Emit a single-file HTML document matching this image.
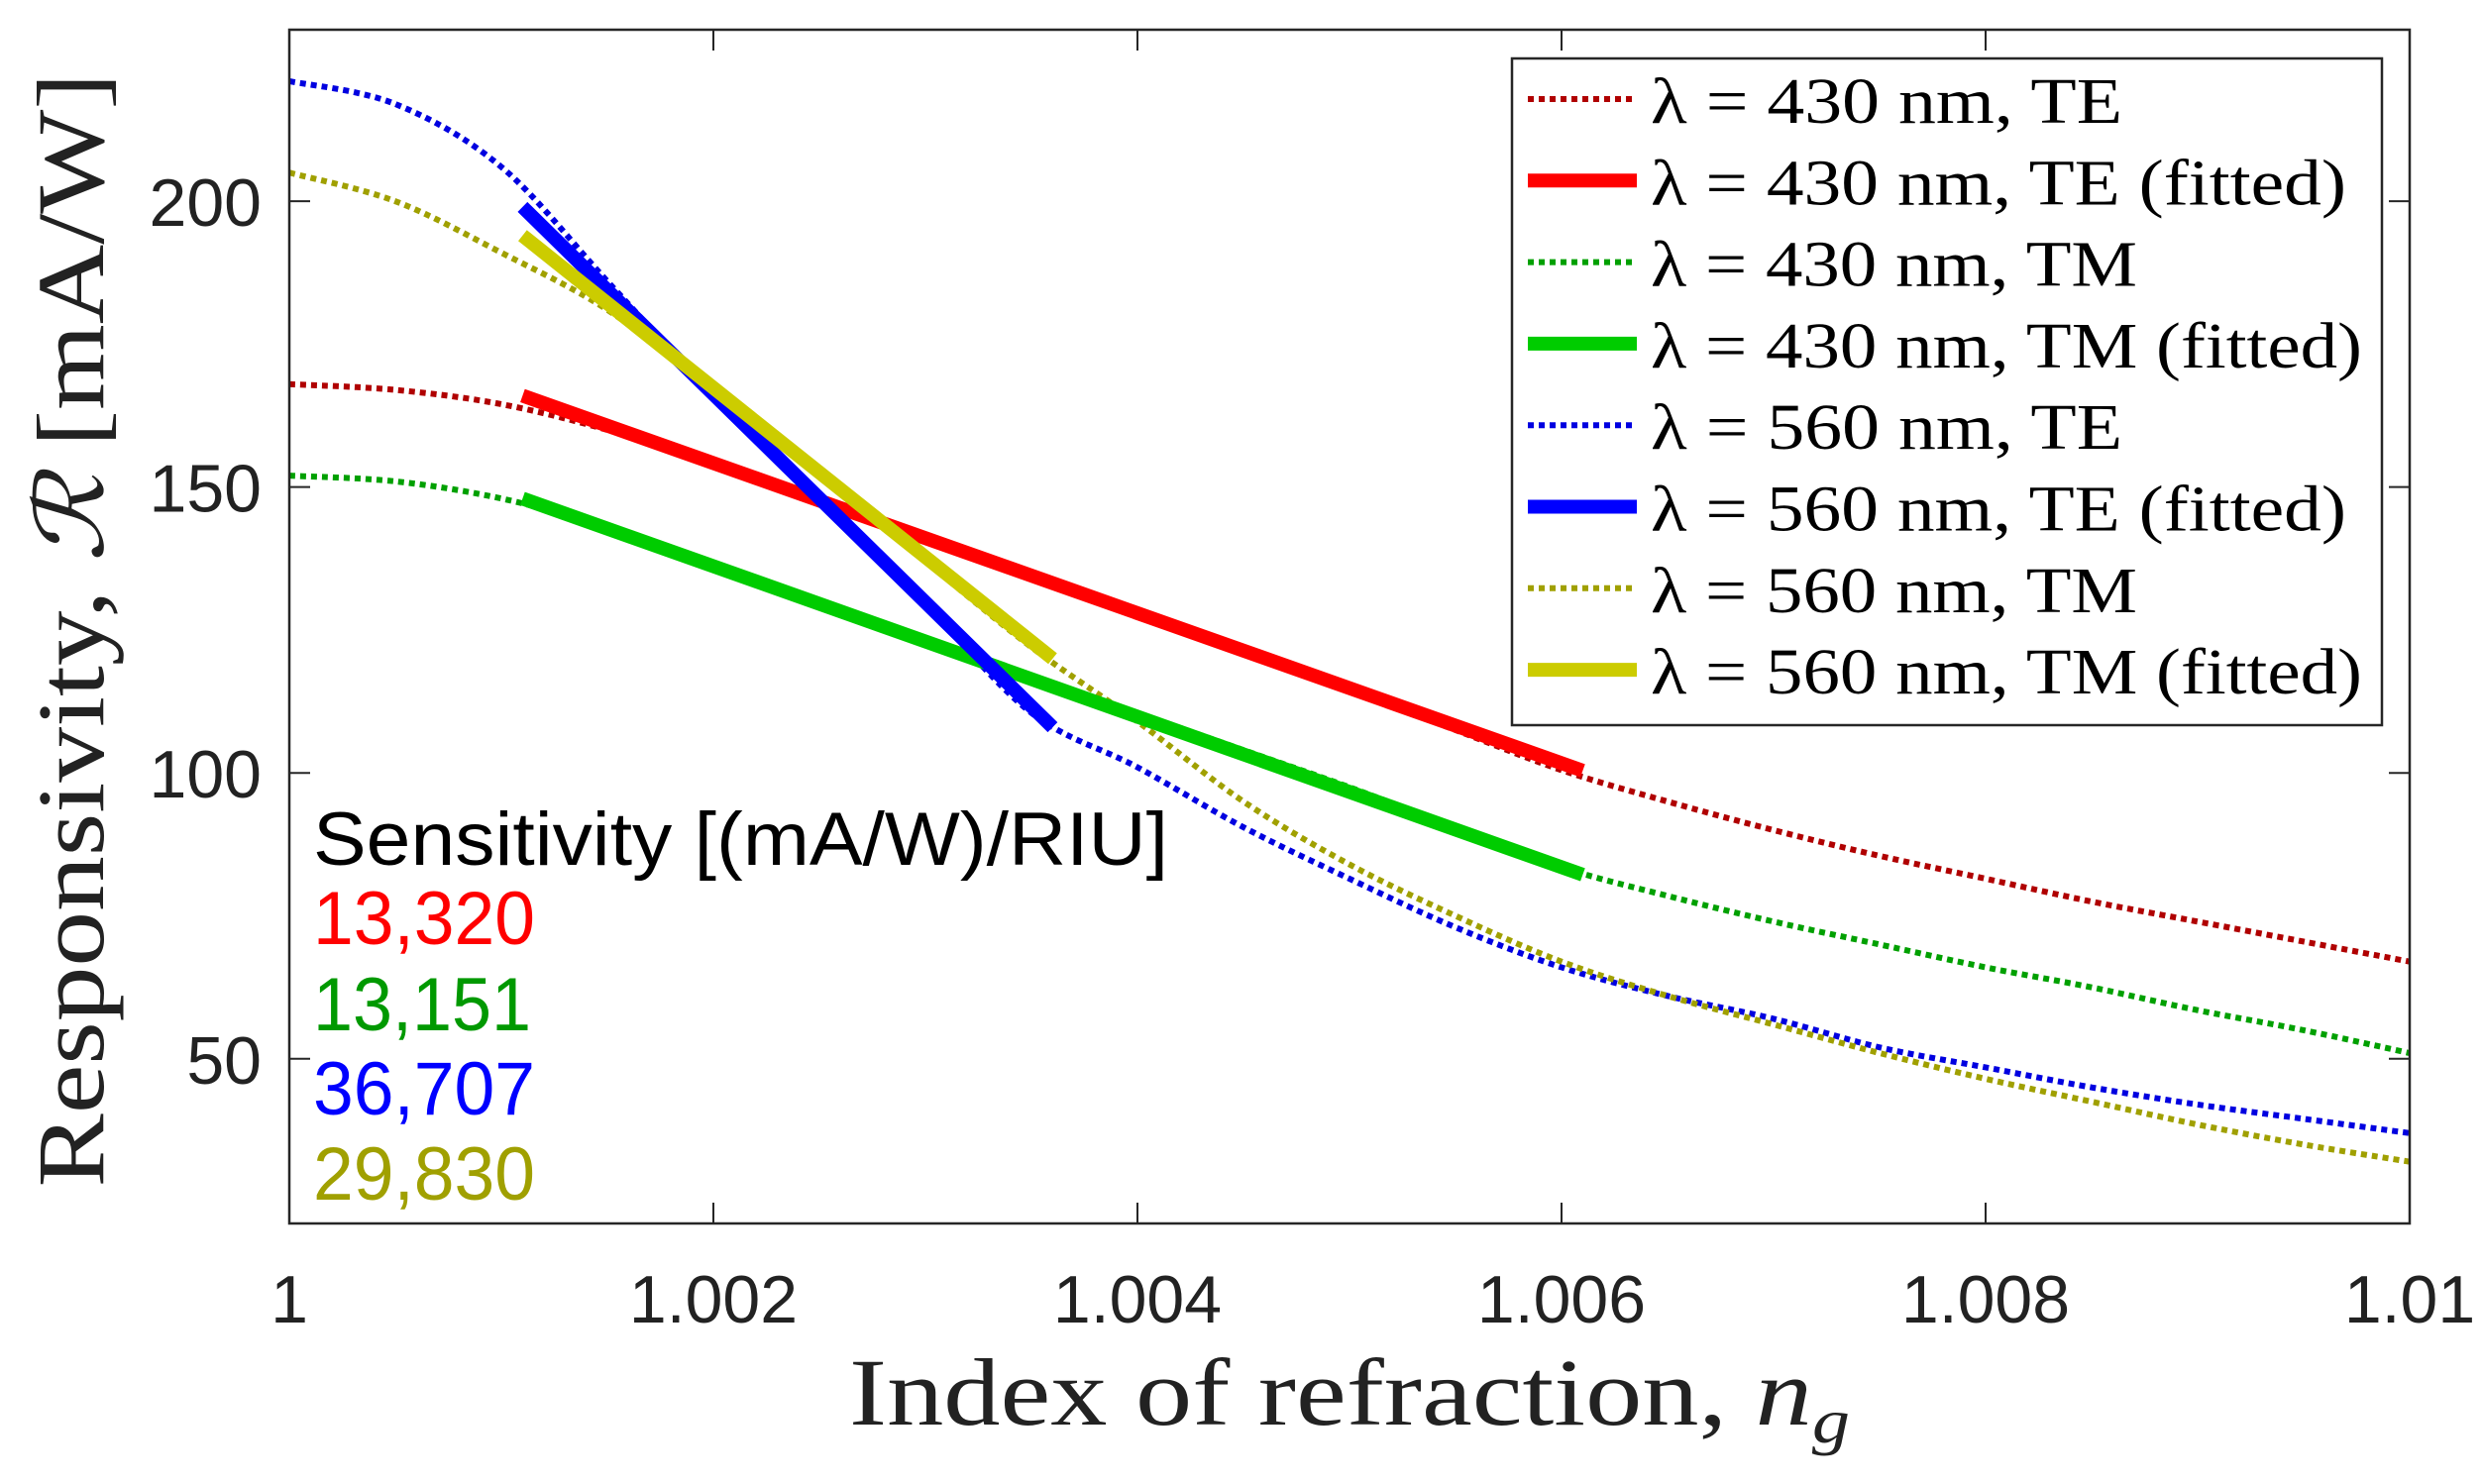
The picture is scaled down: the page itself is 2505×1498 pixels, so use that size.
<!DOCTYPE html>
<html><head><meta charset="utf-8"><style>
html,body{margin:0;padding:0;background:#fff;}
svg{display:block;}
.sans{font-family:"Liberation Sans",sans-serif;}
.serif{font-family:"Liberation Serif",serif;}
</style></head><body>
<svg id="chart" width="2505" height="1498" viewBox="0 0 2505 1498" xmlns="http://www.w3.org/2000/svg">
<rect x="0" y="0" width="2505" height="1498" fill="#fff"/>
<g id="plot"></g>
<g id="axes"></g>
<g id="legend"></g>
<text class="serif" x="1362" y="1438" font-size="96" text-anchor="middle" fill="#222" textLength="1010" lengthAdjust="spacingAndGlyphs">Index of refraction, <tspan font-style="italic">n</tspan><tspan font-style="italic" font-size="64" dy="18">g</tspan></text>
<text class="serif" transform="translate(104,636) rotate(-90)" x="0" y="0" font-size="96" text-anchor="middle" fill="#222" textLength="1125" lengthAdjust="spacingAndGlyphs">Responsivity, <tspan font-family="DejaVu Serif" font-style="italic">ℛ</tspan> [mA/W]</text>
<g class="sans" font-size="76">
<text x="316" y="873" fill="#000" textLength="863" lengthAdjust="spacingAndGlyphs">Sensitivity [(mA/W)/RIU]</text>
<text x="316" y="953" fill="#ff0000" textLength="224" lengthAdjust="spacingAndGlyphs">13,320</text>
<text x="316" y="1040" fill="#009900" textLength="220" lengthAdjust="spacingAndGlyphs">13,151</text>
<text x="316" y="1125" fill="#0000ff" textLength="224" lengthAdjust="spacingAndGlyphs">36,707</text>
<text x="316" y="1211" fill="#a0a000" textLength="224" lengthAdjust="spacingAndGlyphs">29,830</text>
</g>
</svg>
<script>
const xCurve = [1.0000,1.0005,1.0010,1.0015,1.0020,1.0025,1.0030,1.0035,1.0040,1.0045,1.0050,1.0055,1.0060,1.0065,1.0070,1.0075,1.0080,1.0085,1.0090,1.0095,1.0100];
const te430 = [168,167,164.5,160,154,147.5,141,134.5,128,121,114.5,107.5,100.5,95,90,85.5,81.5,77.5,74,70.5,67];
const tm430 = [152,151,148,143,136.5,130,123.5,117,110.5,104,97.5,90.5,83.5,78.5,74,70,66,62.5,58.5,55,51];
const te560 = [221,217,206,186,166,148,129.5,110.5,101,90.5,81.5,73,66,61,57,52,48.5,45,42,39.5,37];
const tm560 = [205,200,191,181,167,152,137,122,109,95,84,75,67,61,56,51,46.5,42.5,38.5,35,32];
const fitTe430X = [1.0011,1.0061]; const fitTe430Y = [166,100.4];
const fitTm430X = [1.0011,1.0061]; const fitTm430Y = [148,82.2];
const fitTe560X = [1.0011,1.0036]; const fitTe560Y = [199,108];
const fitTm560X = [1.0011,1.0036]; const fitTm560Y = [194,120];
const xTicks = [1,1.002,1.004,1.006,1.008,1.01];
const xTickLabels = ["1","1.002","1.004","1.006","1.008","1.01"];
const yTicks = [50,100,150,200];
const yTickLabels = ["50","100","150","200"];
const legendLabels = ["λ = 430 nm, TE","λ = 430 nm, TE (fitted)","λ = 430 nm, TM","λ = 430 nm, TM (fitted)","λ = 560 nm, TE","λ = 560 nm, TE (fitted)","λ = 560 nm, TM","λ = 560 nm, TM (fitted)"];

const NS="http://www.w3.org/2000/svg";
const L=292,R=2432,T=30,B=1235;
const X0=1,X1=1.01,Y0=21.2,Y1=230;
function sx(v){return L+(v-X0)/(X1-X0)*(R-L);}
function sy(v){return B-(v-Y0)/(Y1-Y0)*(B-T);}
function mk(tag,attrs,parent){const e=document.createElementNS(NS,tag);for(const k in attrs)e.setAttribute(k,attrs[k]);parent.appendChild(e);return e;}
const plot=document.getElementById('plot'),axes=document.getElementById('axes'),leg=document.getElementById('legend');

const series=[
 {x:xCurve,y:te430,c:"#b00000",dot:true,n:"curve-430-te"},
 {x:xCurve,y:tm430,c:"#00a000",dot:true,n:"curve-430-tm"},
 {x:xCurve,y:te560,c:"#0000e0",dot:true,n:"curve-560-te"},
 {x:xCurve,y:tm560,c:"#a0a000",dot:true,n:"curve-560-tm"},
 {x:fitTe430X,y:fitTe430Y,c:"#ff0000",dot:false,n:"fit-430-te"},
 {x:fitTm430X,y:fitTm430Y,c:"#00cc00",dot:false,n:"fit-430-tm"},
 {x:fitTe560X,y:fitTe560Y,c:"#0000ff",dot:false,n:"fit-560-te"},
 {x:fitTm560X,y:fitTm560Y,c:"#cccc00",dot:false,n:"fit-560-tm"}
];
function pathFor(xs,ys){
  const p=xs.map((v,i)=>[sx(v),sy(ys[i])]);
  let d="M"+p[0][0]+","+p[0][1];
  for(let i=0;i<p.length-1;i++){
    const p0=p[Math.max(0,i-1)],p1=p[i],p2=p[i+1],p3=p[Math.min(p.length-1,i+2)];
    const c1=[p1[0]+(p2[0]-p0[0])/6,p1[1]+(p2[1]-p0[1])/6];
    const c2=[p2[0]-(p3[0]-p1[0])/6,p2[1]-(p3[1]-p1[1])/6];
    d+=" C"+c1[0]+","+c1[1]+" "+c2[0]+","+c2[1]+" "+p2[0]+","+p2[1];
  }
  return d;
}
series.forEach(s=>{
  const e=mk('path',{d:pathFor(s.x,s.y),fill:"none",stroke:s.c,"stroke-width":s.dot?6:14,"stroke-dasharray":s.dot?"6 5":"none"},plot);
  
  
});

const box=mk('rect',{x:L,y:T,width:R-L,height:B-T,fill:"none",stroke:"#262626","stroke-width":2.5},axes);


xTicks.forEach((v,i)=>{
  const x=sx(v);
  mk('line',{x1:x,y1:B,x2:x,y2:B-21,stroke:"#262626","stroke-width":2},axes);
  mk('line',{x1:x,y1:T,x2:x,y2:T+21,stroke:"#262626","stroke-width":2},axes);
  const t=mk('text',{x:x,y:1335,"font-size":68,"text-anchor":"middle",fill:"#222","class":"sans"},axes);
  t.textContent=xTickLabels[i];
  
  
});
yTicks.forEach((v,i)=>{
  const y=sy(v);
  mk('line',{x1:L,y1:y,x2:L+21,y2:y,stroke:"#262626","stroke-width":2},axes);
  mk('line',{x1:R,y1:y,x2:R-21,y2:y,stroke:"#262626","stroke-width":2},axes);
  const t=mk('text',{x:264,y:y+25,"font-size":68,"text-anchor":"end",fill:"#222","class":"sans"},axes);
  t.textContent=yTickLabels[i];
  
  
});

const lb=mk('rect',{x:1526,y:59,width:878,height:673,fill:"#fff",stroke:"#262626","stroke-width":2.5},leg);


const legOrder=[0,4,1,5,2,6,3,7];
const textLens=[476,702,491,718,476,702,491,718];
legendLabels.forEach((lab,i)=>{
  const s=series[legOrder[i]];
  const base=124+i*82.3;
  const ln=mk('line',{x1:1542,y1:base-24,x2:1652,y2:base-24,stroke:s.c,"stroke-width":s.dot?6:14,"stroke-dasharray":s.dot?"6 5":"none"},leg);
  
  
  const t=mk('text',{x:1666,y:base,"font-size":66,fill:"#000","class":"serif",textLength:textLens[i],lengthAdjust:"spacingAndGlyphs"},leg);
  t.textContent=lab;
  
  
});
</script>
</body></html>
